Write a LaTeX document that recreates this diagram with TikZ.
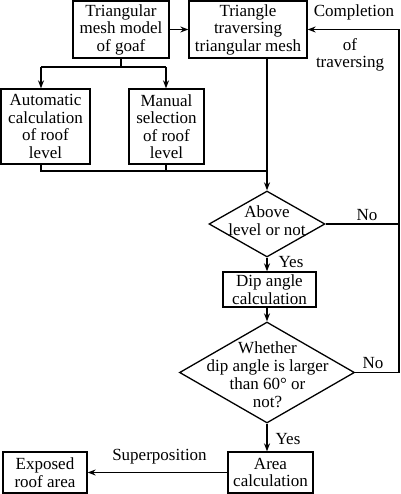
\documentclass[tikz,border=0pt]{standalone}
\usepackage{fontspec}
\setmainfont{Liberation Serif}
\usetikzlibrary{shapes.geometric,arrows.meta}
\begin{document}
\begin{tikzpicture}[x=1pt,y=-1pt, line width=1.3pt,
  >={Stealth[length=8pt,width=6pt]},
  box/.style={draw, inner sep=0pt, align=center, font=\fontsize{17}{17.5}\selectfont},
  lbl/.style={inner sep=0pt, align=center, font=\fontsize{17}{17.5}\selectfont},
  dia/.style={draw, diamond, inner sep=0pt}]
\useasboundingbox (0,0) rectangle (400,494);
% boxes
\node[box, minimum width=96pt, minimum height=57pt] (mesh) at (121,29.5) {Triangular\\mesh model\\of goaf};
\node[box, minimum width=118pt, minimum height=57pt] (trav) at (248,29.5) {Triangle\\traversing\\triangular mesh};
\node[box, minimum width=89pt, minimum height=75pt] (auto) at (45.5,126.5) {Automatic\\calculation\\of roof\\level};
\node[box, minimum width=75pt, minimum height=75pt] (man) at (166.5,126.5) {Manual\\selection\\of roof\\level};
\node[dia, minimum width=116pt, minimum height=66pt] (d1) at (267,224) {};
\node[lbl] (d1t) at (267,220.5) {Above\\level or not};
\node[box, minimum width=93pt, minimum height=35pt] (dip) at (269.5,289.5) {Dip angle\\calculation};
\node[dia, minimum width=175pt, minimum height=101pt] (d2) at (267,372.5) {};
\node[lbl, font=\fontsize{17}{18}\selectfont] (d2t) at (267.5,375) {Whether\\dip angle is larger\\than 60°~or\\not?};
\node[box, minimum width=85pt, minimum height=41pt] (area) at (270.5,472.5) {Area\\calculation};
\node[box, minimum width=84pt, minimum height=41pt] (exp) at (45,472.5) {Exposed\\roof area};
% labels
\node[lbl] (compl) at (354,12) {Completion};
\node[lbl] (oftr) at (350,55) {of\\traversing};
\node[lbl] (no1) at (367,215) {No};
\node[lbl] (no2) at (373,363) {No};
\node[lbl] (yes1) at (291,262) {Yes};
\node[lbl] (yes2) at (288,439) {Yes};
\node[lbl] (sup) at (159.5,457) {Superposition};
% coordinates
\coordinate (rt) at (399,29.5);
\coordinate (bl) at (41,67);
\coordinate (brr) at (166,67);
\coordinate (jl) at (41,171);
\coordinate (jr) at (267,171);
% connectors
\draw[->] (mesh.east) -- (trav.west);
\draw (mesh.south) -- (mesh.south |- bl);
\draw (bl) -- (brr);
\draw[->] (bl) -- (bl |- auto.north);
\draw[->] (brr) -- (brr |- man.north);
\draw (bl |- auto.south) -- (jl) -- (jr);
\draw (brr |- man.south) -- (brr |- jl);
\draw[->] (trav.south -| jr) -- (d1.north);
\draw[->] (d1.south) -- (d1.south |- dip.north);
\draw[->] (dip.south -| d2) -- (d2.north);
\draw[->] (d2.south) -- (d2.south |- area.north);
\draw[->] (area.west) -- (exp.east);
\draw (d1.east) -- (d1.east -| rt);
\draw[->] (d2.east) -- (d2.east -| rt) -- (rt) -- (trav.east);
\end{tikzpicture}
\end{document}
